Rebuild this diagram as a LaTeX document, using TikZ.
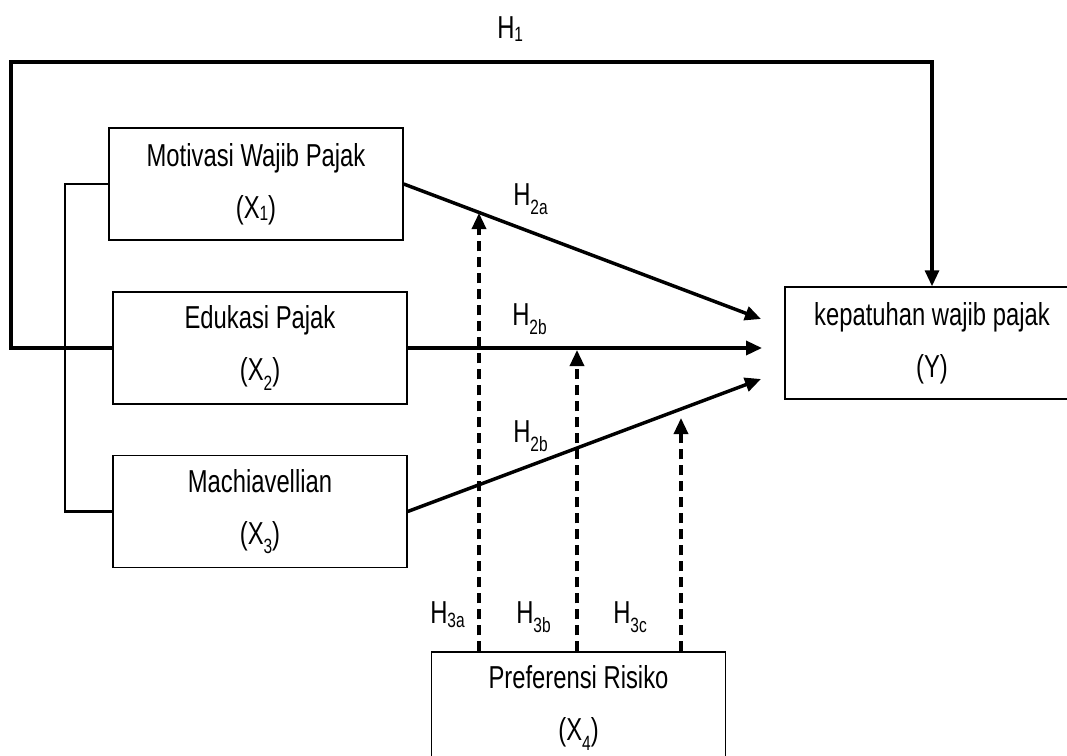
\documentclass[tikz,border=0pt]{standalone}
\usepackage{fontspec}
\setmainfont[FakeStretch=0.75]{Liberation Sans}
\usetikzlibrary{arrows.meta, positioning}
\newcommand{\idxlow}[1]{\raisebox{-0.15ex}{\fontsize{15.5}{16}\selectfont #1}}
\newcommand{\idxdeep}[1]{\raisebox{-7pt}{\fontsize{15.5}{16}\selectfont #1}}
\tikzset{
  varbox/.style  = {rectangle, draw=black, line width=1.1pt, fill=white, align=center,
                    font=\fontsize{23.8}{39}\selectfont, minimum width=220.5pt,
                    minimum height=84pt, inner sep=0pt},
  flow/.style    = {-{Triangle[length=12pt, width=10.5pt]}, line width=2.6pt},
  modflow/.style = {flow, line width=2.5pt, dash pattern=on 7.5pt off 4.5pt},
  link/.style    = {line width=2.1pt},
  hlbl/.style    = {font=\fontsize{23.8}{24}\selectfont, inner sep=0pt, anchor=base west},
}
\begin{document}
\begin{tikzpicture}[x=0.75pt, y=-0.75pt]
  \clip (0,0) rectangle (1067,756);
  % variables
  \node[varbox] (x1) at (256,184)   {Motivasi Wajib Pajak\\(X\idxlow{1})};
  \node[varbox] (x2) at (260,348)   {Edukasi Pajak\\(X\idxdeep{2})};
  \node[varbox] (x3) at (260,511.5) {Machiavellian\\(X\idxdeep{3})};
  \node[varbox] (y)  at (932,343)   {kepatuhan wajib pajak\\(Y)};
  \node[varbox] (x4) at (578.5,708) {Preferensi Risiko\\(X\idxdeep{4})};
  % arrow ends
  \coordinate (ta) at (761,319);
  \coordinate (tb) at (762,348);
  \coordinate (tc) at (761,379);
  \coordinate (ma) at (479,213);
  \coordinate (mb) at (577,350);
  \coordinate (mc) at (681,418);
  \coordinate (bend) at (11,62);
  \coordinate (br) at (65,184);
  % H1 and the joint line
  \draw[flow, line width=2.4pt] (x2.west) -| (bend) -| (y.north);
  \draw[link] (x1.west) -- (br) |- (x3.west);
  % H2
  \draw[flow] (x1.east) -- (ta);
  \draw[flow] (x2.east) -- (tb);
  \draw[flow] (x3.east) -- (tc);
  % H3 (moderation)
  \foreach \m in {ma,mb,mc}{\draw[modflow] (x4.north -| \m) -- (\m);}
  % labels
  \node[hlbl] (lh1)  at (497,39)  {H\idxlow{1}};
  \node[hlbl] (lh2a) at (513,205) {H\idxdeep{2a}};
  \node[hlbl] (lh2b) at (512,325) {H\idxdeep{2b}};
  \node[hlbl] (lh2c) at (513,442) {H\idxdeep{2b}};
  \node[hlbl] (lh3a) at (430,623) {H\raisebox{-3pt}{\fontsize{15.5}{16}\selectfont 3a}};
  \node[hlbl] (lh3b) at (516,623) {H\idxdeep{3b}};
  \node[hlbl] (lh3c) at (613,623) {H\idxdeep{3c}};
\end{tikzpicture}
\end{document}
